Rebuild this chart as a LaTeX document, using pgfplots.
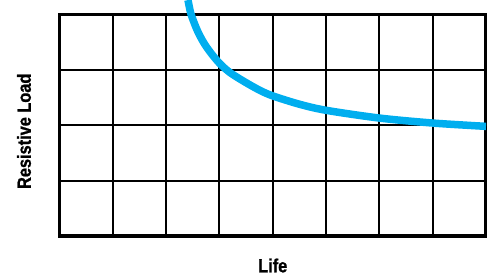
\documentclass[border=0pt]{standalone}
\usepackage{fontspec}
\usepackage{pgfplots}
\pgfplotsset{compat=1.18}
\newfontfamily\labfont[FakeStretch=0.86, FakeBold=1]{Liberation Sans Bold}
\definecolor{curvecyan}{HTML}{00AEEF}
\begin{document}
\begin{tikzpicture}
\useasboundingbox (-59.5pt,-40pt) rectangle (427.5pt,236pt);
\begin{axis}[
  scale only axis,
  width=426.5pt, height=221.5pt,
  xmin=0, xmax=8, ymin=0, ymax=4,
  xtick={0,1,...,8}, ytick={0,1,...,4},
  xticklabels={}, yticklabels={},
  major tick length=0pt,
  grid=major,
  grid style={black, line width=1.9pt},
  axis line style={black, line width=3.6pt},
  clip=false,
  xlabel={\labfont\fontsize{19}{19}\selectfont Life},
  ylabel={\labfont\fontsize{19}{19}\selectfont Resistive Load},
  xlabel style={at={(axis description cs:0.5,0)}, anchor=center, yshift=-29.5pt},
  ylabel style={at={(axis description cs:0,0.5)}, anchor=center, xshift=-6pt, yshift=35.5pt},
]
\addplot[curvecyan, line width=7.5pt, smooth] coordinates {
  (2.41,4.26) (2.46,4.03) (2.53,3.84) (2.60,3.68) (2.70,3.50) (2.82,3.33)
  (3.00,3.12) (3.20,2.95) (3.48,2.78) (3.76,2.63) (4.00,2.53) (4.50,2.38)
  (5.00,2.27) (6.00,2.13) (7.00,2.04) (8.00,1.98)
};
\end{axis}
\end{tikzpicture}
\end{document}
